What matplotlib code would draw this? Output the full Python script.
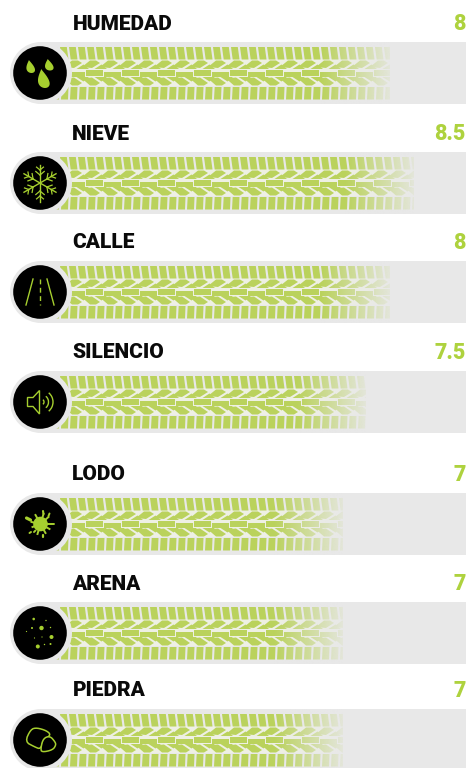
import numpy as np
import matplotlib
matplotlib.use("Agg")
import matplotlib.pyplot as plt
from matplotlib.patches import Rectangle, Circle, Polygon, Arc

labels = ["HUMEDAD", "NIEVE", "CALLE", "SILENCIO", "LODO", "ARENA", "PIEDRA"]
values = [8, 8.5, 8, 7.5, 7, 7, 7]
value_labels = ["8", "8.5", "8", "7.5", "7", "7", "7"]

track_tops = [42, 152, 261, 371, 493, 602, 709]
label_ys = [24, 134, 243, 353, 475, 584, 691]
label_xs = [73, 72, 72, 72, 72, 72, 73]

TREAD = "#bad25c"
ICON = "#a6cf2f"
VALUE = "#aed23e"
GREY = "#e8e8e8"
GAP = "#eef0e4"


def val_to_x(v):
    return 10 + 47.5 * v


def draw_tread(ax, top, x_end):
    clip = Rectangle((0, top), x_end, 62, transform=ax.transData)
    band = Rectangle((50, top + 17), 430, 27, fc=GAP, ec="none", zorder=1.5)
    ax.add_patch(band)
    band.set_clip_path(clip)
    polys = []
    for i in range(48):
        x = 51 + 9 * i
        polys.append([(x, top + 5), (x + 6.8, top + 5), (x + 8.5, top + 17.5), (x + 1.7, top + 17.5)])
        polys.append([(x + 1.7, top + 45), (x + 8.5, top + 45), (x + 8, top + 57.5), (x + 1, top + 57.5)])
    for i in range(24):
        x = 46 + 18 * i
        # leaves and wedges above and below the centre bars
        polys.append([(x, top + 25), (x + 8, top + 18.5), (x + 14, top + 18.5), (x + 18, top + 21), (x + 10, top + 26)])
        polys.append([(x + 12.5, top + 27), (x + 19.5, top + 22.5), (x + 25, top + 27)])
        polys.append([(x, top + 36.5), (x + 10, top + 35.5), (x + 18, top + 41), (x + 14, top + 43.5), (x + 8, top + 43.5)])
        polys.append([(x + 12.5, top + 35), (x + 25, top + 35), (x + 19.5, top + 39.5)])
        # centre bars, stepping up and down
        dy = 0 if i % 2 == 0 else 1.5
        polys.append([(x + 4, top + 28 + dy), (x + 20.5, top + 28 + dy), (x + 20.5, top + 33.5 + dy), (x + 4, top + 33.5 + dy)])
    for p in polys:
        patch = Polygon(p, closed=True, fc=TREAD, ec="none", zorder=2)
        ax.add_patch(patch)
        patch.set_clip_path(clip)
    # fade the tread out into the grey track
    fade = np.zeros((1, 64, 4))
    fade[..., :3] = matplotlib.colors.to_rgb(GREY)
    fade[..., 3] = np.linspace(0, 0.9, 64)
    ax.imshow(fade, extent=(x_end - 70, x_end, top + 62, top), aspect="auto", zorder=3)


def drop(ax, cx, tip_y, w, h):
    t = np.linspace(0, 2 * np.pi, 60)
    px = cx + 0.68 * w * np.sin(t) * np.sin(t / 2) ** 1.3
    py = tip_y + h * (1 - np.cos(t)) / 2
    px = px + (py - tip_y - h) * 0.2
    ax.fill(px, py, color=ICON, lw=0, zorder=6)


def icon_drops(ax, cy):
    drop(ax, 31.5, cy - 13, 8.5, 13)
    drop(ax, 50, cy - 14, 8.5, 11.5)
    drop(ax, 45, cy - 4, 11.5, 19)


def icon_snow(ax, cy):
    for a in np.arange(0, 360, 60) + 90:
        r = np.radians(a)
        ax.plot([40, 40 + 18.5 * np.cos(r)], [cy, cy - 18.5 * np.sin(r)], color=ICON, lw=1.0, zorder=6)
        for d, ln in [(8, 5.5), (13, 4.5)]:
            bx, by = 40 + d * np.cos(r), cy - d * np.sin(r)
            for s in (-50, 50):
                rr = np.radians(a + s)
                ax.plot([bx, bx + ln * np.cos(rr)], [by, by - ln * np.sin(rr)], color=ICON, lw=0.9, zorder=6)


def icon_road(ax, cy):
    ax.plot([33, 26], [cy - 13, cy + 13], color=ICON, lw=1.0, zorder=6)
    ax.plot([47, 54], [cy - 13, cy + 13], color=ICON, lw=1.0, zorder=6)
    ax.plot([40, 40], [cy - 13, cy + 13], color=ICON, lw=1.0, ls=(0, (3.5, 2.5)), zorder=6)


def icon_speaker(ax, cy):
    pts = [(27.5, cy - 4.5), (33, cy - 4.5), (39.5, cy - 11.5), (39.5, cy + 12), (33, cy + 4.5), (27.5, cy + 4.5)]
    ax.add_patch(Polygon(pts, closed=True, fc="none", ec=ICON, lw=1.0, zorder=6))
    for r in (3, 7.5, 12):
        ax.add_patch(Arc((41, cy), 2 * r, 2 * r, theta1=-50, theta2=50, ec=ICON, lw=1.0, zorder=6))


def icon_splat(ax, cy):
    ax.add_patch(Circle((40.5, cy), 7.3, fc=ICON, ec="none", zorder=6))
    for dx, dy in [(3, -10), (8, -7), (10, 0), (9, 5), (-9, -2), (-8, 3), (-3, 10), (5, 9), (-5, -9)]:
        ax.plot([40.5, 40.5 + dx], [cy, cy + dy], color=ICON, lw=1.4, zorder=6)
    for x, dy, dx2, dy2, w in [(26.5, -6, 4, 2, 2.3), (43, -13, 0.5, 3, 1.5), (49.5, -10.5, -1, 2.5, 1.4),
                               (52, 0, 1.5, 0, 1.4), (42.5, 11, 0, 2, 1.6), (34, 8, 1.5, -1.5, 1.4),
                               (29.5, 9, 1.5, -1, 1.4)]:
        ax.plot([x, x + dx2], [cy + dy, cy + dy + dy2], color=ICON, lw=w, solid_capstyle="round", zorder=6)


def icon_sand(ax, cy):
    pts = [(33.7, -14, 1.3), (46, -12.5, 0.7), (32, -5, 1.0), (41.5, -5, 2.2), (50.5, -5.5, 0.7),
           (26.5, -1.5, 0.6), (34.5, 5, 0.6), (42, 4, 0.6), (51.5, 4, 2.0), (37.8, 13.5, 2.0),
           (44.5, 11.5, 0.7), (50.5, 11, 1.0)]
    for x, dy, r in pts:
        ax.add_patch(Circle((x, cy + dy), r, fc=ICON, ec="none", zorder=6))


def soften(pts, rounds=2):
    # corner cutting so the stones lose their hard corners
    pts = np.array(pts, dtype=float)
    for _ in range(rounds):
        nxt = np.roll(pts, -1, axis=0)
        pts = np.column_stack([0.75 * pts + 0.25 * nxt, 0.25 * pts + 0.75 * nxt]).reshape(-1, 2)
    return pts


def icon_stones(ax, cy):
    big = [(25, 1.7), (30.7, -10.7), (36.7, -12.3), (46.7, -9.3), (51, -5), (43.3, 0), (40.7, 9.3), (34.3, 6.7)]
    small = [(43.3, -1.7), (50, -4), (55, 1.7), (56, 5), (52.7, 10), (41.7, 12.3), (40.7, 8.3)]
    for shape, z in ((big, 6), (small, 6.5)):
        pts = soften([(x, cy + dy) for x, dy in shape])
        ax.add_patch(Polygon(pts, closed=True, fc="black", ec=ICON, lw=1.1, zorder=z))


icons = [icon_drops, icon_snow, icon_road, icon_speaker, icon_splat, icon_sand, icon_stones]

fig = plt.figure(figsize=(4.69, 7.68), dpi=100)
ax = fig.add_axes([0, 0, 1, 1])

for label, v, vl, top, ly, lx, icon in zip(labels, values, value_labels, track_tops, label_ys, label_xs, icons):
    cy = top + 31
    ax.add_patch(Rectangle((40, top), 426, 62, fc=GREY, ec="none", zorder=1))
    draw_tread(ax, top, val_to_x(v))
    ax.add_patch(Circle((41, cy), 31, fc=GREY, ec="none", zorder=4))
    ax.add_patch(Circle((40, cy), 26.8, fc="black", ec="none", zorder=5))
    icon(ax, cy)
    ax.text(lx, ly, label, family="Roboto", weight="black", fontsize=15, color="#0a0a0a",
            va="center", ha="left", zorder=7)
    ax.text(465.5, ly, vl, family="Roboto", weight="black", fontsize=15.5, color=VALUE,
            va="center", ha="right", zorder=7)

ax.set_xlim(0, 469)
ax.set_ylim(768, 0)
ax.axis("off")
fig.savefig("out.png", dpi=100, facecolor="white")
